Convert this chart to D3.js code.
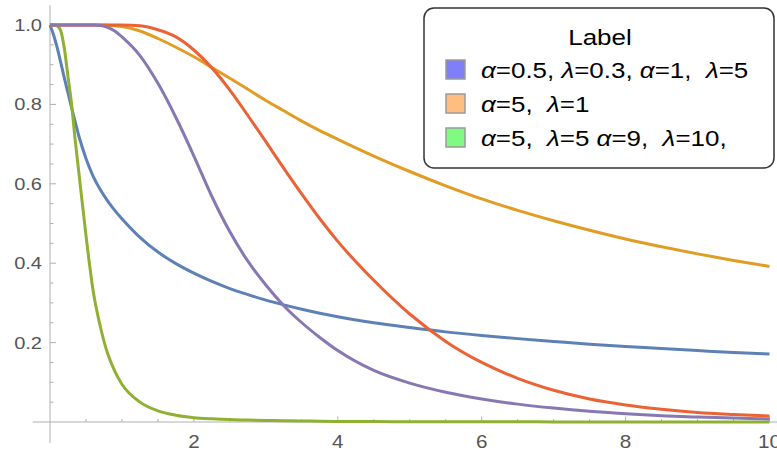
<!DOCTYPE html>
<html>
<head>
<meta charset="utf-8">
<script src="https://cdn.jsdelivr.net/npm/d3@7"></script>
<style>
  html, body { margin: 0; padding: 0; background: #fff; }
  svg { display: block; }
  text { font-family: "Liberation Sans", Arial, sans-serif; white-space: pre; }
</style>
</head>
<body>
<svg id="chart" width="777" height="452"></svg>
<script>
// ---- data ----
const xs = [0,0.05,0.1,0.15,0.2,0.25,0.3,0.35,0.4,0.5,0.6,0.7,0.8,0.9,1,1.25,1.5,1.75,2,2.25,2.5,2.75,3,3.25,3.5,3.75,4,4.5,5,5.5,6,6.5,7,7.5,8,8.5,9,9.5,10];

const blueS = [1,0.975,0.943,0.905,0.866,0.829,0.792,0.756,0.721,0.664,0.619,0.585,0.557,0.533,0.512,0.465,0.428,0.399,0.375,0.354,0.336,0.321,0.307,0.295,0.284,0.274,0.265,0.25,0.238,0.227,0.218,0.21,0.203,0.196,0.19,0.185,0.18,0.175,0.171];
const orangeS = [1,1,1,1,1,1,1,1,1,1,1,1,0.9995,0.998,0.996,0.985,0.966,0.944,0.92,0.893,0.866,0.838,0.81,0.784,0.758,0.734,0.712,0.67,0.631,0.595,0.562,0.533,0.507,0.483,0.461,0.4415,0.4235,0.407,0.392];
const greenS = [1,1,0.998,0.985,0.94,0.87,0.8,0.71,0.63,0.47,0.33,0.24,0.173,0.128,0.095,0.05,0.028,0.017,0.011,0.008,0.006,0.005,0.004,0.003,0.0025,0.002,0.0015,0.001,0.0008,0.0006,0.0005,0.0004,0.0003,0.0002,0.0002,0.0001,0.0001,0.0001,0.0001];
const redS = [1,1,1,1,1,1,1,1,1,1,1,1,1,1,1,0.998,0.988,0.97,0.937,0.892,0.836,0.772,0.706,0.639,0.574,0.512,0.455,0.357,0.272,0.203,0.15,0.11,0.08,0.058,0.043,0.032,0.024,0.019,0.015];
const purpleS = [1,1,1,1,1,1,1,1,1,1,1,0.999,0.994,0.985,0.97,0.923,0.853,0.767,0.67,0.568,0.479,0.405,0.345,0.293,0.25,0.213,0.18,0.13,0.098,0.075,0.058,0.045,0.035,0.027,0.021,0.016,0.0125,0.0098,0.0078];

const seriesNames = ["blue", "orange", "green", "red", "purple"];
const seriesColors = ["#5E81B5", "#E19C24", "#8FB032", "#EB6235", "#8778B3"];

const yMajorTicks = [0.2, 0.4, 0.6, 0.8, 1.0];
const yTickLabels = ["0.2", "0.4", "0.6", "0.8", "1.0"];
const xMajorTicks = [2, 4, 6, 8, 10];
const xTickLabels = ["2", "4", "6", "8", "10"];

const legendTitle = "Label";
const legendRows = [
  [["α", true], ["=0.5, ", false], ["λ", true], ["=0.3, ", false], ["α", true], ["=1,  ", false], ["λ", true], ["=5", false]],
  [["α", true], ["=5,  ", false], ["λ", true], ["=1", false]],
  [["α", true], ["=5,  ", false], ["λ", true], ["=5 ", false], ["α", true], ["=9,  ", false], ["λ", true], ["=10,", false]]
];
const legendFills = ["#7f7ff9", "#ffbe80", "#80fa80"];

// ---- chart ----
const svg = d3.select("#chart");
const stretch = 1.18;

const x = d3.scaleLinear().domain([0, 10]).range([50, 769.5]);
const y = d3.scaleLinear().domain([0, 1]).range([422, 25]);

const axisColor = "#b0b0b0";
const labelColor = "#555555";

// axes lines
svg.append("line").attr("x1", x(-0.24)).attr("x2", 777).attr("y1", y(0)).attr("y2", y(0))
  .attr("stroke", axisColor).attr("stroke-width", 1);
svg.append("line").attr("x1", x(0)).attr("x2", x(0)).attr("y1", y(1.05)).attr("y2", y(-0.053))
  .attr("stroke", axisColor).attr("stroke-width", 1);

// y ticks
const yMinor = d3.range(1, 21).map(i => i * 0.05).filter(v => !yMajorTicks.some(m => Math.abs(m - v) < 1e-9));
svg.selectAll(".ymin").data(yMinor).join("line")
  .attr("x1", x(0)).attr("x2", x(0) + 3.5)
  .attr("y1", d => y(d)).attr("y2", d => y(d))
  .attr("stroke", axisColor).attr("stroke-width", 1);
svg.selectAll(".ymaj").data(yMajorTicks).join("line")
  .attr("x1", x(0)).attr("x2", x(0) + 6)
  .attr("y1", d => y(d)).attr("y2", d => y(d))
  .attr("stroke", axisColor).attr("stroke-width", 1);
svg.selectAll(".ylab").data(yMajorTicks).join("text")
  .attr("transform", d => `translate(42,${y(d) + 6}) scale(${stretch},1)`)
  .attr("text-anchor", "end")
  .attr("font-size", 17)
  .attr("fill", labelColor)
  .text((d, i) => yTickLabels[i]);

// x ticks
const xMinor = d3.range(1, 21).map(i => i * 0.5).filter(v => !xMajorTicks.includes(v));
svg.selectAll(".xmin").data(xMinor).join("line")
  .attr("x1", d => x(d)).attr("x2", d => x(d))
  .attr("y1", y(0)).attr("y2", y(0) - 3)
  .attr("stroke", axisColor).attr("stroke-width", 1);
svg.selectAll(".xmaj").data(xMajorTicks).join("line")
  .attr("x1", d => x(d)).attr("x2", d => x(d))
  .attr("y1", y(0)).attr("y2", y(0) - 5.5)
  .attr("stroke", axisColor).attr("stroke-width", 1);
svg.selectAll(".xlab").data(xMajorTicks).join("text")
  .attr("transform", d => `translate(${x(d)},448) scale(${stretch},1)`)
  .attr("text-anchor", "middle")
  .attr("font-size", 17.5)
  .attr("fill", labelColor)
  .text((d, i) => xTickLabels[i]);

// lines
const allSeries = [blueS, orangeS, greenS, redS, purpleS];
const line = d3.line().x(d => x(d[0])).y(d => y(d[1])).curve(d3.curveMonotoneX);
allSeries.forEach((vals, i) => {
  svg.append("path")
    .datum(xs.map((xv, j) => [xv, vals[j]]))
    .attr("fill", "none")
    .attr("stroke", seriesColors[i])
    .attr("stroke-width", 3)
    .attr("stroke-linejoin", "round")
    .attr("stroke-linecap", "butt")
    .attr("d", line);
});

// legend
const lg = svg.append("g");
lg.append("rect").attr("x", 424).attr("y", 8).attr("width", 350).attr("height", 160)
  .attr("rx", 10).attr("ry", 10)
  .attr("fill", "#fff").attr("stroke", "#333").attr("stroke-width", 1.5);
lg.append("text")
  .attr("transform", `translate(600,45) scale(${stretch},1)`)
  .attr("text-anchor", "middle").attr("font-size", 22).attr("fill", "#000")
  .text(legendTitle);
legendRows.forEach((row, i) => {
  const cy = 69.5 + i * 34;
  lg.append("rect").attr("x", 446).attr("y", cy - 9.5).attr("width", 19).attr("height", 19)
    .attr("fill", legendFills[i]).attr("stroke", "#9a9a9a").attr("stroke-width", 1.5);
  const t = lg.append("text")
    .attr("transform", `translate(481,${cy + 8}) scale(${stretch},1)`)
    .attr("font-size", 22).attr("fill", "#000");
  row.forEach(([s, it]) => {
    t.append("tspan").attr("font-style", it ? "italic" : "normal").text(s);
  });
});
</script>
</body>
</html>
